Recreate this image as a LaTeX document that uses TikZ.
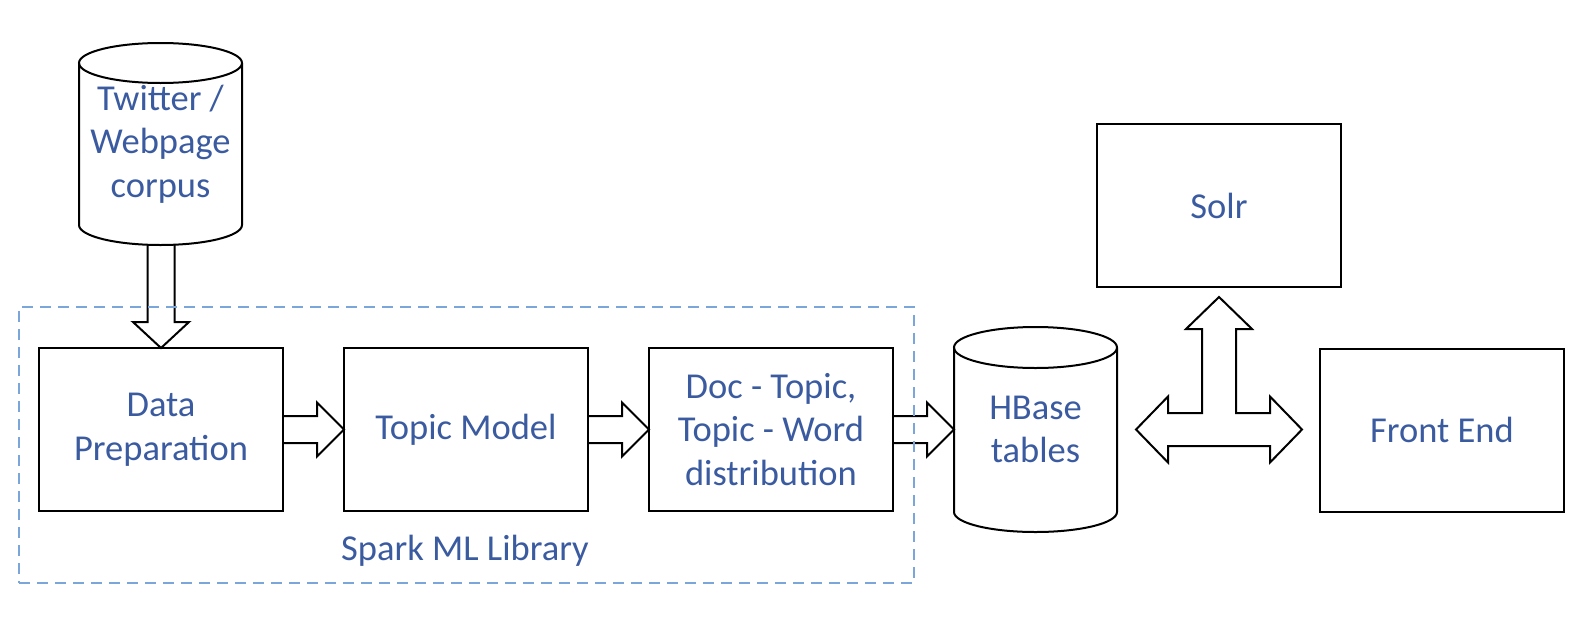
\documentclass[tikz,border=0pt]{standalone}
\usepackage{fontspec}
\setmainfont{Carlito}
\usetikzlibrary{calc}
\definecolor{txtblue}{HTML}{3B5BA0}
\definecolor{dashblue}{HTML}{7AA6DA}
\newcommand\hblock[2]{%
  \draw[blockarrow] let \p1=(#1.east), \p2=(#2.west) in
    (\x1,\y1+13.5pt) -- (\x2-27pt,\y1+13.5pt) -- (\x2-27pt,\y1+27pt) -- (\x2,\y1)
    -- (\x2-27pt,\y1-27pt) -- (\x2-27pt,\y1-13.5pt) -- (\x1,\y1-13.5pt);}
\begin{document}
\begin{tikzpicture}[x=1pt,y=1pt,
  lbl/.style={text=txtblue, font=\fontsize{36.5}{43.5}\selectfont, align=center, inner sep=0pt, outer sep=0pt},
  box/.style={lbl, draw=black, line width=2pt, minimum width=244pt, minimum height=163pt},
  cyl/.style={lbl, minimum width=163pt},
  outline/.style={draw=black, line width=2pt},
  blockarrow/.style={draw=black, line width=2pt, line join=miter},
  grp/.style={draw=dashblue, line width=1.5pt, dash pattern=on 11pt off 7pt, inner sep=0pt, outer sep=0pt}]
\useasboundingbox (0,0) rectangle (1594,-616);
% boxes
\node[box] (dp) at (161,-429.5) {Data\\Preparation};
\node[box] (tm) at (466,-429.5) {Topic Model};
\node[box] (doc) at (771,-429.5) {Doc - Topic,\\Topic - Word\\distribution};
\node[box] (solr) at (1219,-205.5) {Solr};
\node[box] (fe) at (1442,-430) {Front End};
% cylinders
\node[cyl, minimum height=202pt] (tw) at (160.5,-144) {Twitter /\\Webpage\\corpus};
\draw[outline] ($(tw.north west)+(0,-20)$) -- ($(tw.south west)+(0,20)$)
  arc[start angle=180, end angle=360, x radius=81.5, y radius=20] -- ($(tw.north east)+(0,-20)$);
\draw[outline] ($(tw.north)+(0,-20)$) ellipse[x radius=81.5, y radius=20];
\node[cyl, minimum height=205pt] (hb) at (1035.5,-429.5) {HBase\\tables};
\draw[outline] ($(hb.north west)+(0,-20.5)$) -- ($(hb.south west)+(0,20)$)
  arc[start angle=180, end angle=360, x radius=81.5, y radius=20] -- ($(hb.north east)+(0,-20.5)$);
\draw[outline] ($(hb.north)+(0,-20.5)$) ellipse[x radius=81.5, y radius=20.5];
% down arrow
\draw[blockarrow] let \p1=(tw.south), \p2=(dp.north) in
  (\x2-13.5pt,\y1) -- (\x2-13.5pt,\y2+26pt) -- (\x2-28pt,\y2+26pt) -- (\x2,\y2)
  -- (\x2+28pt,\y2+26pt) -- (\x2+13.5pt,\y2+26pt) -- (\x2+13.5pt,\y1);
% horizontal arrows
\hblock{dp}{tm}
\hblock{tm}{doc}
\hblock{doc}{hb}
% T arrow
\coordinate (tl) at ($(hb.east)+(19,0)$);
\coordinate (tr) at ($(fe.west)+(-18,0)$);
\coordinate (tu) at ($(solr.south)+(0,-10)$);
\draw[blockarrow] let \p1=(tl), \p2=(tr), \p3=(tu) in
  (\x1,\y1) -- (\x1+32pt,\y1+33pt) -- (\x1+32pt,\y1+16.5pt) -- (\x3-17pt,\y1+16.5pt)
  -- (\x3-17pt,\y3-32pt) -- (\x3-33pt,\y3-32pt) -- (\x3,\y3) -- (\x3+33pt,\y3-32pt)
  -- (\x3+17pt,\y3-32pt) -- (\x3+17pt,\y1+16.5pt) -- (\x2-32pt,\y1+16.5pt)
  -- (\x2-32pt,\y1+33pt) -- (\x2,\y1) -- (\x2-32pt,\y1-33pt) -- (\x2-32pt,\y1-16.5pt)
  -- (\x1+32pt,\y1-16.5pt) -- (\x1+32pt,\y1-33pt) -- cycle;
% group
\node[grp, minimum width=895pt, minimum height=276pt] (spk) at (466.5,-445) {};
\node[lbl, anchor=base] (sparklbl) at (465,-560) {Spark ML Library};
\end{tikzpicture}
\end{document}
